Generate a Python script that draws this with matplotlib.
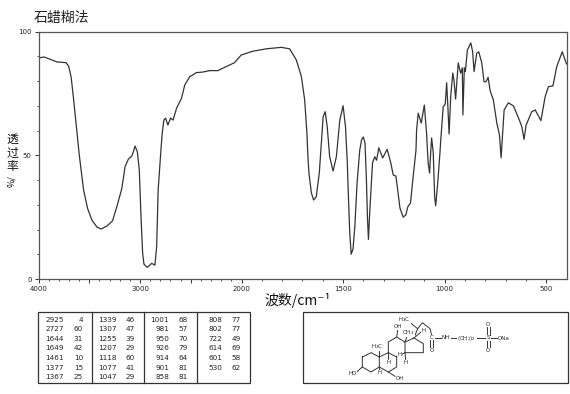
"""IR spectrum (paraffin mull) with peak table and structure."""
import matplotlib
matplotlib.use("Agg")
import matplotlib.pyplot as plt
import numpy as np

CJK = ["Noto Sans CJK SC", "DejaVu Sans"]
INK = "#333333"

wavenumber = [4000, 3944, 3817, 3728, 3703, 3679, 3657, 3627, 3598, 3556, 3517, 3474, 3424, 3382, 3326, 3271,
              3228, 3179, 3147, 3115, 3081, 3066, 3049, 3026, 3007, 2990, 2974, 2961, 2928, 2885, 2853, 2836,
              2821, 2794, 2781, 2765, 2748, 2725, 2699, 2674, 2640, 2591, 2559, 2510, 2444, 2382, 2314, 2233,
              2150, 2069, 2003, 1946, 1878, 1804, 1763, 1730, 1705, 1689, 1678, 1673, 1668, 1656, 1645, 1632,
              1617, 1609, 1598, 1588, 1578, 1566, 1549, 1533, 1516, 1500, 1488, 1479, 1476, 1467, 1460, 1451,
              1442, 1431, 1418, 1409, 1400, 1392, 1385, 1380, 1375, 1370, 1360, 1355, 1344, 1335, 1324, 1305,
              1283, 1265, 1253, 1240, 1233, 1220, 1204, 1191, 1181, 1168, 1155, 1141, 1138, 1130, 1115, 1100,
              1089, 1081, 1074, 1068, 1064, 1056, 1049, 1044, 1034, 1023, 1020, 1007, 997, 990, 984, 978,
              970, 960, 954, 946, 933, 921, 913, 910, 903, 898, 888, 871, 862, 855, 842, 832,
              817, 806, 796, 786, 776, 760, 743, 730, 722, 707, 686, 661, 632, 620, 609, 599,
              571, 554, 526, 505, 489, 467, 448, 421, 400]
transmittance = [89.3, 89.7, 87.7, 87.4, 86, 81.7, 73.7, 61.5, 50, 36, 28.6, 23.8, 21, 20.2, 21.4, 23.5,
                 29.2, 36.6, 45.4, 48.4, 49.7, 51.3, 53.7, 51.4, 44, 25, 10.4, 6, 4.7, 6.3, 5.6, 13,
                 36, 52, 59, 64.2, 65, 62.2, 65, 64.2, 69, 73, 78.4, 81.7, 83.4, 83.6, 84.2, 84.2,
                 85.8, 87.4, 90.5, 92, 93, 93.6, 93, 88.5, 81.7, 72.3, 59, 49.4, 42.8, 34.8, 31.9, 33.2,
                 42.8, 52.5, 65.6, 67.6, 61.5, 49.4, 43.6, 49.4, 64.2, 70, 61.5, 46.9, 38.8, 18.6, 10, 12.1,
                 21.3, 38.8, 52, 56.2, 57.4, 55, 40, 25, 16, 25, 40, 46.9, 49.4, 48, 53, 48.9,
                 52.4, 46.9, 42, 41.6, 37.3, 28.7, 25, 25.9, 29.2, 30.7, 41.3, 52, 60.2, 67, 63, 70.3,
                 59, 46.9, 42.8, 52, 57, 51, 33, 29.6, 38.8, 51, 55, 69.6, 70.7, 79.3, 69.6, 58.6,
                 73.7, 83.2, 80.4, 72.7, 87.3, 83.2, 85.3, 66.3, 85.3, 83.8, 92.5, 95.4, 91.8, 83.8, 91.2, 91.8,
                 87.3, 79.7, 79.7, 81.5, 76.1, 72.3, 63, 58.2, 49, 68.3, 71.2, 69.9, 64.2, 61.5, 56.4, 62.2,
                 67.6, 68.3, 64, 73.7, 77.7, 78, 85.8, 91.8, 86.9]

x_labels = [4000, 3000, 2000, 1500, 1000, 500]
x_major = [4000, 3500, 3000, 2500, 2000, 1500, 1000, 500]
y_major = [0, 50, 100]

peak_columns = [
    [("2925", "4"), ("2727", "60"), ("1644", "31"), ("1649", "42"), ("1461", "10"), ("1377", "15"), ("1367", "25")],
    [("1339", "46"), ("1307", "47"), ("1255", "39"), ("1207", "29"), ("1118", "60"), ("1077", "41"), ("1047", "29")],
    [("1001", "68"), ("981", "57"), ("950", "70"), ("926", "79"), ("914", "64"), ("901", "81"), ("858", "81")],
    [("808", "77"), ("802", "77"), ("722", "49"), ("614", "69"), ("601", "58"), ("530", "62")],
]

# skeleton bonds of the structure, in 3x units from (345, 312)
bonds = [
    [(52, 135), (78, 122), (103, 135), (103, 165), (78, 180), (52, 165), (52, 135)],
    [(103, 135), (130, 122), (155, 135), (155, 165), (130, 180), (103, 165)],
    [(130, 122), (130, 90), (155, 75), (180, 90), (180, 122), (155, 135)],
    [(180, 90), (207, 78), (235, 95), (235, 122), (180, 122)],
    [(207, 78), (218, 50), (190, 28)],
    [(218, 50), (232, 32), (255, 50), (260, 70)],
    [(256, 85), (256, 110)], [(264, 85), (264, 110)],
    [(270, 77), (290, 77)], [(317, 77), (340, 77)], [(395, 78), (422, 78)], [(438, 78), (462, 78)],
    [(426, 45), (426, 68)], [(434, 45), (434, 68)], [(426, 88), (426, 108)], [(434, 88), (434, 108)],
    [(52, 165), (35, 180)], [(130, 180), (150, 193)], [(155, 75), (158, 55)],
    [(103, 135), (103, 112)], [(180, 90), (187, 70)], [(207, 78), (228, 60)],
    [(103, 165), (104, 175)], [(130, 122), (131, 145)], [(155, 135), (160, 122)], [(180, 122), (182, 145)],
]
atom_labels = [
    (22, 184, "HO"), (165, 200, "OH"), (95, 103, "H$_3$C"), (160, 45, "OH"), (190, 62, "CH$_3$"),
    (178, 22, "H$_3$C"), (261, 77, "C"), (261, 117, "O"), (303, 77, "NH"), (365, 80, "(CH$_2$)$_2$"),
    (430, 77, "S"), (430, 38, "O"), (430, 117, "O"), (477, 79, "ONa"),
    (105, 182, "H"), (132, 152, "H"), (163, 126, "H"), (183, 152, "H"), (236, 55, "H"),
]

def forward(w):
    return np.interp(w, [400, 2000, 4000], [0.0, 325.0, 528.0])

def inverse(p):
    return np.interp(p, [0.0, 325.0, 528.0], [400, 2000, 4000])

fig = plt.figure(figsize=(5.7, 3.94), dpi=100)
ax = fig.add_axes([38.5 / 570, 1 - 279 / 394, 528 / 570, 247.5 / 394])
ax.set_xscale("function", functions=(forward, inverse))
ax.set_xlim(4000, 400)
ax.set_ylim(0, 100)
ax.plot(wavenumber, transmittance, color=INK, lw=0.9)

ax.set_xticks(x_major)
ax.set_xticks(np.arange(500, 4000, 100), minor=True)
ax.set_xticklabels([str(v) if v in x_labels else "" for v in x_major])
ax.set_yticks(y_major)
ax.set_yticks(np.arange(0, 101, 10), minor=True)
ax.tick_params(which="major", length=3, width=0.7, color=INK, labelsize=5, labelcolor="#222222", pad=2)
ax.tick_params(which="minor", length=1.5, width=0.6, color=INK)
for side in ax.spines.values():
    side.set_linewidth(0.9)
    side.set_color("#555555")

# page layer in reference pixels for everything outside the plot
page = fig.add_axes([0, 0, 1, 1], facecolor="none")
page.set_xlim(0, 570)
page.set_ylim(394, 0)
page.axis("off")

page.text(34, 18, "石蜡糊法", family=CJK, fontsize=10, va="center", color="#222222")
page.text(298, 300, "波数/cm⁻¹", family=CJK, fontsize=10, ha="center", va="center", color="#111111")
for y, ch in zip([139, 153, 166], "透过率"):
    page.text(12, y, ch, family=CJK, fontsize=8.5, ha="center", va="center", color="#111111")
page.text(12, 181, "%/", family=CJK, fontsize=6.5, rotation=90, ha="center", va="center", color="#111111")

page.add_patch(plt.Rectangle((38, 312), 212, 71, fill=False, ec=INK, lw=0.9))
for x in [91.5, 144, 197]:
    page.plot([x, x], [312, 383], color=INK, lw=0.9)
num_x = [64, 116.5, 169, 222]
val_x = [83, 135, 188, 241]
for col, rows in enumerate(peak_columns):
    for row, (num, val) in enumerate(rows):
        y = 319.5 + row * 9.6
        page.text(num_x[col], y, num, fontsize=5.2, ha="right", va="center", color="#222222")
        page.text(val_x[col], y, val, fontsize=5.2, ha="right", va="center", color="#222222")

page.add_patch(plt.Rectangle((303, 312), 265, 71, fill=False, ec=INK, lw=0.9))
for bond in bonds:
    xs = [345 + p[0] / 3 for p in bond]
    ys = [312 + p[1] / 3 for p in bond]
    page.plot(xs, ys, color=INK, lw=0.7)
for zx, zy, label in atom_labels:
    page.text(345 + zx / 3, 312 + zy / 3, label, fontsize=4, ha="center", va="center", color="#222222",
              bbox=dict(fc="white", ec="none", pad=0.2))

fig.savefig("out.png", dpi=100)
